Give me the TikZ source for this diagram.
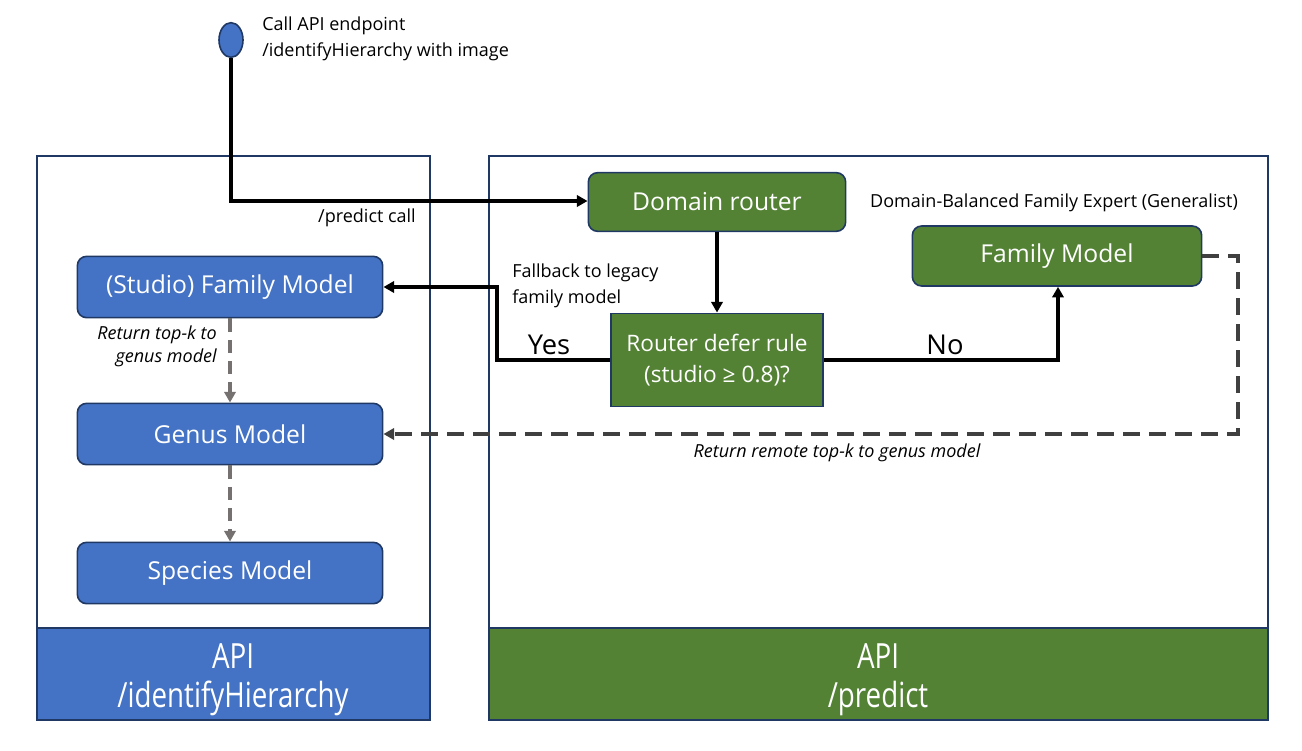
\documentclass[tikz,border=0pt]{standalone}
\usepackage{fontspec}
\setmainfont{Open Sans}
\newfontfamily\condfont[FakeStretch=0.8]{Open Sans}
\usetikzlibrary{arrows.meta,positioning,shapes.geometric}
\definecolor{bblue}{HTML}{4472C4}
\definecolor{bgreen}{HTML}{548235}
\definecolor{navy}{HTML}{1F3864}
\definecolor{dgray}{HTML}{404040}
\definecolor{mgray}{HTML}{767171}
\tikzset{
  px/.style={x=0.75pt,y=-0.75pt},
  panel/.style={draw=navy,line width=1.2pt},
  boxfont/.style={font=\fontsize{18.5}{23}\selectfont},
  bluebox/.style={draw=navy,fill=bblue,rounded corners=7pt,line width=1.2pt,text=white,boxfont,inner sep=0pt},
  greenbox/.style={draw=navy,fill=bgreen,rounded corners=7pt,line width=1.2pt,text=white,boxfont,inner sep=0pt},
  sqbox/.style={draw=navy,fill=bgreen,line width=1.2pt,text=white,font=\fontsize{17}{23}\selectfont,inner sep=0pt,align=center},
  flow/.style={draw=black,line width=2.4pt,-{Triangle[length=8pt,width=8.5pt]}},
  rdash/.style={draw=dgray,line width=2.4pt,dash pattern=on 12.5pt off 7pt,-{Triangle[length=8pt,width=8.5pt]}},
  gdash/.style={draw=mgray,line width=2.4pt,dash pattern=on 10pt off 6pt,-{Triangle[length=8pt,width=8.5pt]}},
  lbl/.style={font=\fontsize{13.5}{19.5}\selectfont,inner sep=0pt},
  ilbl/.style={font=\fontsize{13.5}{17.5}\selectfont\itshape,inner sep=0pt},
  biglbl/.style={font=\fontsize{20.5}{24}\selectfont,inner sep=0pt},
  apilbl/.style={text=white,font=\condfont\fontsize{26}{29}\selectfont,align=center,inner sep=0pt}
}
\begin{document}
\begin{tikzpicture}[px]
\useasboundingbox (0,0) rectangle (1302,750);
% panels
\fill[bblue] (37,628) rectangle (430,720);
\fill[bgreen] (489,628) rectangle (1268,720);
\draw[panel] (37,156) rectangle (430,720);
\draw[panel] (37,628) -- (430,628);
\draw[panel] (489,156) rectangle (1268,720);
\draw[panel] (489,628) -- (1268,628);
\node[apilbl] (apiL) at (233,680) {API\\/identifyHierarchy};
\node[apilbl] (apiR) at (878,680) {API\\/predict};
% start
\node[draw=navy,fill=bblue,ellipse,line width=1.2pt,minimum width=18pt,minimum height=26pt,inner sep=0pt] (start) at (231,40) {};
\node[lbl,anchor=west,align=left] (startlbl) at (262,39) {Call API endpoint\\/identifyHierarchy with image};
% nodes
\node[greenbox,minimum width=193pt,minimum height=44pt] (router) at (717,202) {Domain router};
\node[greenbox,minimum width=217pt,minimum height=45pt] (fam) at (1057,256) {Family Model};
\node[lbl] (famlbl) at (1054,203) {Domain-Balanced Family Expert (Generalist)};
\node[sqbox,minimum width=159pt,minimum height=70pt] (defer) at (717,360) {Router defer rule\\(studio ≥ 0.8)?};
\node[bluebox,minimum width=229pt,minimum height=46pt] (studio) at (230,287) {(Studio) Family Model};
\node[bluebox,minimum width=229pt,minimum height=46pt] (genus) at (230,434) {Genus Model};
\node[bluebox,minimum width=229pt,minimum height=46pt] (species) at (230,573) {Species Model};
% coordinates
\coordinate (c1) at (231,201);
\coordinate (c2) at (497,360);
\coordinate (c3) at (497,287);
\coordinate (c4) at (1058,360);
\coordinate (c5) at (1238,256);
\coordinate (c6) at (1238,434);
% connectors
\draw[flow] (start.south) -- (c1) -- (router.west |- c1);
\node[lbl] (predcall) at (367,218) {/predict call};
\draw[flow] (router.south) -- (defer.north);
\draw[flow] (defer.west) -- (c2) -- (c3) -- (studio.east |- c3);
\node[biglbl] (yes) at (549,345) {Yes};
\node[lbl,anchor=west,align=left] (fallback) at (512,286) {Fallback to legacy\\family model};
\draw[flow] (defer.east) -- (c4) -- (fam.south -| c4);
\node[biglbl] (no) at (945,345) {No};
\draw[rdash] (fam.east) -- (c5) -- (c6) -- (genus.east |- c6);
\node[ilbl] (remote) at (837,453) {Return remote top-k to genus model};
\draw[gdash] (studio.south) -- (genus.north);
\node[ilbl,anchor=east,align=right] (topk) at (217,346) {Return top-k to\\genus model};
\draw[gdash] (genus.south) -- (species.north);
\end{tikzpicture}
\end{document}
